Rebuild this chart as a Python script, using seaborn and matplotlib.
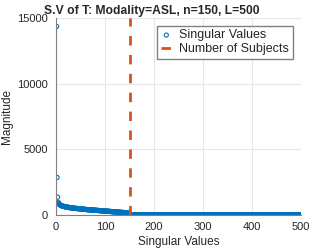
import numpy as np
import pandas as pd
import matplotlib
matplotlib.use("Agg")
import matplotlib.pyplot as plt
import seaborn as sns

# singular values (first 150, the rest sit at zero)
sv_head = [14350, 2850, 1350, 960, 880, 830, 790, 760, 735, 715,
           700, 685, 672, 660, 650, 640, 631, 622, 614, 606,
           598, 591, 584, 577, 571, 565, 559, 553, 547, 542,
           537, 532, 527, 522, 517, 512, 508, 504, 500, 496,
           492, 488, 484, 480, 476, 472, 468, 464, 460, 456,
           452, 448, 444, 440, 436, 432, 428, 424, 420, 416,
           412, 408, 404, 400, 397, 394, 391, 388, 385, 382,
           379, 376, 373, 370, 367, 364, 361, 358, 355, 352,
           349, 346, 343, 340, 337, 334, 331, 328, 325, 322,
           319, 316, 313, 310, 307, 304, 301, 298, 295, 292,
           289, 286, 283, 280, 277, 274, 271, 268, 265, 262,
           259, 256, 253, 250, 247, 244, 241, 238, 235, 232,
           229, 226, 223, 220, 217, 214, 211, 208, 205, 202,
           199, 196, 193, 190, 187, 184, 181, 178, 175, 171,
           167, 163, 159, 155, 150, 145, 139, 132, 122, 105]
sv_tail = [0.0] * 350
n_subjects = 150
xticks = [0, 100, 200, 300, 400, 500]
yticks = [0, 5000, 10000, 15000]

sv = sv_head + sv_tail
df = pd.DataFrame({'idx': np.arange(1, len(sv) + 1), 'sv': sv})

sns.set_style("whitegrid", {'grid.color': '#e6e6e6', 'axes.edgecolor': '#808080'})
plt.rcParams['font.family'] = ['Liberation Sans', 'DejaVu Sans']

blue = '#0072BD'
orange = '#D95319'

fig = plt.figure(figsize=(3.32, 2.49), dpi=100)
ax = fig.add_axes([0.169, 0.137, 0.738, 0.791])
sns.scatterplot(data=df, x='idx', y='sv', ax=ax, marker='o', s=9,
                facecolors='none', edgecolors=blue, linewidth=0.8, label='Singular Values')
ax.axvline(n_subjects, color=orange, linestyle=(0, (3.4, 3.4)), linewidth=2, label='Number of Subjects')

ax.set_xlim(0, 500)
ax.set_ylim(0, 15000)
ax.set_xticks(xticks)
ax.set_yticks(yticks)
ax.tick_params(labelsize=8, colors='#262626', length=0)
ax.tick_params(axis='x', pad=5)
ax.tick_params(axis='y', pad=6)
ax.set_xlabel('Singular Values', fontsize=8.5, color='#262626', labelpad=3)
ax.set_ylabel('Magnitude', fontsize=8.5, color='#262626', labelpad=3)
ax.set_title('S.V of T: Modality=ASL, n=150, L=500', fontsize=8.7, fontweight='bold',
             x=0.392, pad=3)
for s in ['top', 'right']:
    ax.spines[s].set_visible(False)
for s in ['left', 'bottom']:
    ax.spines[s].set_linewidth(0.8)

ax.legend(loc='upper right', bbox_to_anchor=(0.967, 0.961), fontsize=9, frameon=True,
          fancybox=False, edgecolor='#808080', framealpha=1, handlelength=0.9,
          handletextpad=0.6, borderpad=0.3, labelspacing=0.15, borderaxespad=0)

fig.savefig('out.png', dpi=100)
